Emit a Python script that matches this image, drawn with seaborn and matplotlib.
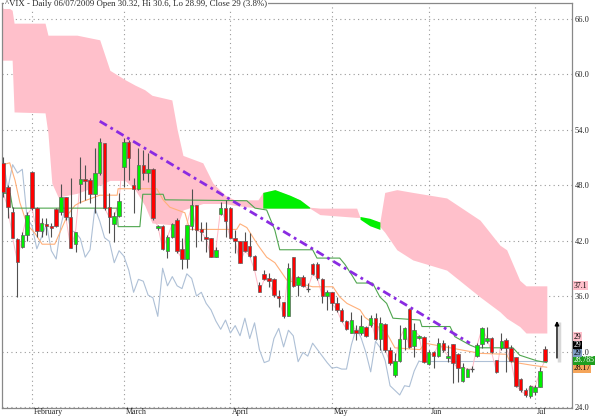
import matplotlib
matplotlib.use("Agg")
import matplotlib.pyplot as plt
import matplotlib.transforms as mtransforms
import seaborn as sns

# VIX daily candles, index 0 = 23 Jan 2009 ... index 112 = 6 Jul 2009
opens = [50.4, 47.8, 45.1, 42.2, 41.3, 42.6, 49.4, 45.5, 43.0, 43.8,
         43.6, 45.4, 45.1, 46.7, 44.5, 41.6, 48.1, 48.6, 48.5, 47.0,
         49.3, 52.5, 45.6, 43.8, 44.6, 49.9, 52.6, 48.0, 47.6, 50.2,
         49.3, 49.7, 43.4, 43.6, 40.9, 42.4, 44.2, 41.1, 40.0, 43.6,
         45.8, 43.2, 42.4, 42.3, 40.2, 44.9, 45.5, 45.5, 42.3, 41.9,
         41.9, 41.4, 40.3, 37.2, 38.4, 37.9, 37.8, 36.0, 35.4, 33.8,
         40.2, 37.2, 38.1, 36.9, 39.5, 39.5, 37.8, 36.0, 36.4, 35.2,
         34.5, 33.3, 32.0, 32.3, 32.0, 32.7, 32.9, 33.6, 31.4, 33.0,
         30.2, 27.5, 29.0, 31.4, 34.6, 30.6, 31.5, 31.6, 28.6, 29.9,
         29.5, 30.9, 29.3, 30.8, 29.7, 26.8, 27.2, 28.1, 29.5, 30.8,
         31.1, 31.5, 29.1, 30.4, 31.2, 30.4, 29.4, 27.0, 25.8, 25.2,
         25.6, 26.2, 30.32]
highs = [51.0, 48.0, 45.6, 42.3, 42.9, 45.1, 49.5, 45.6, 44.4, 44.4,
         43.9, 45.5, 48.1, 46.7, 48.8, 42.9, 51.0, 50.2, 48.8, 52.0,
         53.1, 52.5, 47.1, 45.1, 47.1, 53.1, 52.9, 48.8, 52.0, 51.8,
         51.5, 49.8, 43.7, 43.7, 42.6, 43.9, 44.4, 42.3, 43.7, 47.6,
         45.8, 44.0, 44.0, 42.3, 41.3, 46.2, 46.4, 45.6, 43.1, 42.0,
         42.9, 42.8, 40.4, 37.5, 38.8, 38.5, 37.9, 36.6, 35.4, 39.6,
         40.2, 38.2, 38.3, 37.4, 39.6, 39.7, 37.9, 36.6, 36.4, 35.9,
         34.7, 33.4, 34.3, 32.9, 33.9, 32.8, 33.9, 34.2, 33.7, 33.1,
         30.5, 29.8, 32.9, 32.7, 34.7, 33.1, 31.8, 31.7, 30.2, 30.1,
         31.5, 31.2, 30.7, 30.8, 29.8, 28.8, 28.2, 28.4, 30.9, 32.7,
         32.7, 31.6, 29.1, 32.0, 31.5, 30.7, 29.4, 27.1, 26.1, 26.4,
         26.4, 28.3, 30.6]
lows = [46.7, 44.4, 42.3, 35.9, 41.2, 42.0, 45.3, 42.4, 42.4, 42.6,
        42.4, 43.5, 44.8, 44.2, 41.2, 40.8, 46.1, 46.4, 46.1, 45.0,
        49.1, 45.3, 42.8, 41.8, 44.5, 47.8, 48.5, 45.0, 47.5, 48.5,
        48.3, 44.2, 43.1, 41.0, 40.1, 42.3, 40.6, 38.9, 39.0, 43.1,
        41.3, 42.0, 40.8, 40.2, 40.2, 44.8, 42.4, 42.3, 40.6, 39.6,
        40.8, 40.2, 38.8, 36.4, 37.7, 37.0, 35.9, 34.8, 33.6, 33.8,
        37.0, 36.0, 37.0, 36.4, 38.3, 37.7, 35.2, 34.5, 34.5, 34.3,
        33.2, 32.3, 32.0, 31.2, 31.8, 31.6, 32.6, 31.2, 30.2, 29.9,
        28.5, 27.2, 28.9, 30.2, 30.4, 29.4, 31.3, 28.8, 28.5, 28.2,
        29.4, 29.9, 28.9, 26.6, 26.7, 26.7, 27.2, 27.8, 29.4, 30.4,
        30.9, 29.8, 27.7, 30.2, 27.8, 28.9, 26.2, 25.6, 25.1, 25.0,
        25.3, 26.2, 28.99]
closes = [47.2, 45.6, 42.3, 39.7, 42.6, 44.8, 45.5, 43.0, 43.9, 43.6,
          43.4, 43.6, 46.7, 44.5, 41.2, 42.9, 48.6, 48.4, 47.0, 49.3,
          52.6, 45.5, 44.5, 44.6, 46.3, 52.6, 50.9, 47.6, 50.2, 49.3,
          49.7, 44.4, 43.6, 41.1, 42.4, 43.8, 40.9, 40.0, 43.7, 45.8,
          43.1, 42.9, 42.2, 40.2, 41.0, 45.5, 44.1, 42.3, 41.9, 39.6,
          40.9, 40.3, 38.8, 36.4, 37.8, 37.6, 36.1, 35.8, 33.8, 39.0,
          37.1, 38.1, 37.1, 36.8, 38.4, 37.9, 36.0, 36.4, 35.2, 34.5,
          33.3, 32.4, 33.4, 32.0, 32.8, 31.7, 33.6, 31.4, 33.1, 30.2,
          28.8, 29.0, 31.4, 32.5, 30.5, 32.3, 31.7, 28.9, 29.9, 29.5,
          30.9, 30.2, 29.5, 28.8, 28.2, 28.3, 28.1, 28.1, 30.7, 32.5,
          31.5, 29.9, 27.8, 31.1, 30.4, 29.0, 26.3, 25.8, 25.3, 26.3,
          26.2, 27.9, 29.0]

month_pos = [6, 25, 47, 68, 88, 110]
month_names = ["February", "March", "April", "May", "Jun", "Jul"]

# Ichimoku cloud edges
cloud_i = [-0.6, 0.4, 1.9, 2.3, 8.7, 9.3, 10.1, 11.4, 15.3, 20.0,
           22.1, 25.2, 27.3, 29.3, 30.8, 34.9, 36.0, 37.2, 41.3, 43.4,
           45.9, 47.9, 52.7, 53.7, 56.2, 61.4, 63.4, 65.5, 73.1, 73.8,
           77.9, 78.9, 81.4, 84.7, 91.7, 98.6, 102.7, 104.1, 106.8, 108.1,
           112.4]
cloud_top = [66.7, 67.4, 66.9, 65.5, 65.5, 64.2, 64.2, 64.2, 64.2, 63.7,
             60.4, 59.4, 58.8, 58.3, 57.7, 57.2, 54.0, 51.2, 50.4, 48.2,
             46.9, 46.4, 46.4, 47.2, 47.5, 46.4, 45.6, 45.5, 45.5, 44.5,
             44.0, 47.2, 47.5, 47.2, 46.6, 44.2, 41.5, 41.0, 37.7, 37.1,
             37.1]
cloud_bot = [61.5, 61.5, 61.5, 55.9, 55.8, 53.6, 48.2, 46.7, 47.1, 48.0,
             48.5, 48.5, 47.5, 45.8, 43.9, 43.7, 43.5, 45.3, 46.0, 46.0,
             46.0, 45.8, 45.5, 45.5, 45.5, 45.5, 45.5, 44.8, 44.5, 44.5,
             43.5, 42.9, 41.0, 39.9, 38.8, 35.9, 34.3, 33.6, 32.7, 32.0,
             32.0]
green1_i = [53.7, 56.2, 59.3, 61.4, 63.4]
green1_top = [47.2, 47.5, 46.9, 46.4, 45.6]
green1_bot = [45.5, 45.5, 45.5, 45.5, 45.5]
green2_i = [73.8, 75.8, 77.9]
green2_top = [44.6, 44.4, 44.0]
green2_bot = [44.3, 43.6, 43.2]

# tenkan (orange) and kijun (green) lines
ten_i = [0, 1.4, 2.5, 3.5, 5.0, 6.6, 8.1, 10.7, 11.8, 13.4,
         14.9, 15.9, 19.0, 20.0, 23.6, 23.8, 31.8, 33.1, 34.5, 37.6,
         38.6, 48.3, 49.0, 50.4, 52.7, 54.5, 56.2, 58.7, 64.0, 68.2,
         69.6, 71.1, 73.8, 74.8, 79.3, 81.0, 86.2, 87.2, 89.3, 98.6,
         104.1, 104.8, 109.5, 112.4]
ten_p = [50.2, 50.4, 48.5, 46.1, 43.7, 42.8, 41.6, 41.6, 42.9, 44.8,
         45.8, 46.1, 46.7, 46.9, 46.9, 47.6, 47.6, 46.4, 45.6, 45.0,
         43.2, 43.2, 43.8, 43.4, 41.5, 40.2, 39.6, 37.7, 37.0, 37.0,
         35.9, 35.2, 34.5, 33.7, 32.0, 30.4, 30.2, 30.9, 30.7, 29.8,
         29.7, 28.9, 28.5, 28.3]
kij_i = [0, 1.5, 2, 23.6, 23.8, 28.3, 28.9, 33.1, 33.5, 50.4,
         52.1, 54.5, 56.2, 57.2, 64.0, 64.9, 69.6, 70.7, 72.3, 73.1,
         76.4, 77.9, 79.3, 80.6, 86.2, 86.6, 92.4, 93.4, 96.5, 97.9,
         105.4, 106.8, 110.3, 112.4]
kij_p = [47.1, 47.1, 45.5, 45.5, 43.5, 43.5, 47.0, 47.0, 46.4, 46.3,
         45.5, 45.3, 43.1, 41.0, 41.0, 40.1, 40.1, 39.4, 38.1, 37.4,
         37.4, 35.9, 35.2, 33.6, 33.4, 32.7, 32.7, 31.6, 30.7, 30.4,
         30.4, 29.6, 29.0, 28.8]

# hand-drawn downtrend line
trend_i = [20.0, 96.5]
trend_p = [54.9, 30.9]

lag = 26
arrow_to = 33.6
cloud_last = 37.1
kijun_last = 28.785
tenkan_last = 28.17

PINK = "#FFC0CB"
LIME = "#00F000"
RED = "#FF0000"

sns.set_style("white")
plt.rcParams["font.family"] = ["Liberation Serif", "DejaVu Serif"]

fig = plt.figure(figsize=(6, 4.16), dpi=100)
ax = fig.add_axes([0.0033, 0.0192, 0.9500, 0.9736])

# cloud
ax.fill_between(cloud_i, cloud_bot, cloud_top, color=PINK, lw=0, zorder=1)
ax.fill_between(green1_i, green1_bot, green1_top, color=LIME, lw=0, zorder=1.1)
ax.fill_between(green2_i, green2_bot, green2_top, color=LIME, lw=0, zorder=1.1)

# lines
idx = list(range(len(closes)))
chik_i = idx[:len(closes) - lag]
chik_p = closes[lag:]
sns.lineplot(x=chik_i, y=chik_p, ax=ax, color="#AEC0D6", lw=0.8,
             estimator=None, sort=False, legend=False, zorder=2)
ax.plot([chik_i[-1], idx[-1] + 0.4], [closes[-1], closes[-1]],
        color="#AEC0D6", lw=0.8, zorder=2)
sns.lineplot(x=idx, y=closes, ax=ax, color="#FFB8C6", lw=0.7,
             estimator=None, sort=False, legend=False, zorder=2)
sns.lineplot(x=ten_i, y=ten_p, ax=ax, color="#FFB07A", lw=0.8,
             estimator=None, sort=False, legend=False, zorder=2.1)
sns.lineplot(x=kij_i, y=kij_p, ax=ax, color="#4FA64F", lw=0.8,
             estimator=None, sort=False, legend=False, zorder=2.1)

# candles
ax.vlines(idx, lows, highs, color="#505050", lw=0.8, zorder=3)
for i in idx:
    o, c = opens[i], closes[i]
    if abs(c - o) < 0.12:
        ax.hlines(c, i - 0.4, i + 0.4, color="#505050", lw=0.9, zorder=4)
        continue
    ax.bar(i, abs(c - o), bottom=min(o, c), width=0.72,
           color=LIME if c > o else RED, edgecolor="#606060", lw=0.5, zorder=4)

# trend line
ax.plot(trend_i, trend_p, color="#8A2BE2", lw=2, ls=(0, (3, 1.5, 1, 1.5)), zorder=5)

# projection arrow
ax.plot([idx[-1] + 2.9, idx[-1] + 2.9], [closes[-1] - 0.1, arrow_to - 0.4],
        color="#D8D8D8", lw=2.5, zorder=3, solid_capstyle="butt")
ax.annotate("", xy=(idx[-1] + 2.5, arrow_to), xytext=(idx[-1] + 2.5, closes[-1]),
            arrowprops=dict(arrowstyle="-|>", color="black", lw=1, mutation_scale=6),
            zorder=6, annotation_clip=False)

ax.set_xlim(-0.2, 117.6)
ax.set_ylim(23.89, 67.68)

yt = [24, 30, 36, 42, 48, 54, 60, 66]
ax.set_yticks(yt)
ax.set_yticklabels([f"{v:.1f}" for v in yt])
ax.yaxis.tick_right()
ax.tick_params(axis="y", length=0, pad=2, labelsize=6)
ax.set_xticks(month_pos)
ax.set_xticklabels([])
ax.tick_params(axis="x", length=3, color="#777777", direction="out")
xtrans = mtransforms.blended_transform_factory(ax.transData, ax.transAxes)
for pos, name in zip(month_pos, month_names):
    ax.text(pos + 0.35, -0.001, name, transform=xtrans, fontsize=5.8,
            va="top", ha="left", clip_on=False)
ax.grid(True, ls=(0, (1, 3)), color="#999999", lw=0.8)
ax.set_axisbelow(True)
for s in ax.spines.values():
    s.set_color("#888888")
    s.set_linewidth(0.9)

# value tags on the right edge, stacked upward when they collide
tags = [(tenkan_last, f"{tenkan_last}", "#F5A55A", "black"),
        (kijun_last, f"{kijun_last}", "#1E9E1E", "white"),
        (closes[-1], f"{closes[-1]:g}", "#7E9CC2", "black"),
        (closes[-1], f"{closes[-1]:g}", "black", "white"),
        (closes[-1], f"{closes[-1]:g}", PINK, "black"),
        (cloud_last, f"{cloud_last}", PINK, "black")]
trans = mtransforms.blended_transform_factory(ax.transAxes, ax.transData)
prev = -1e9
for val, txt, bg, fg in tags:
    pos = max(val, prev + 0.86)
    prev = pos
    ax.text(1.003, pos, txt, transform=trans, fontsize=5.5, color=fg,
            va="center", ha="left", clip_on=False, zorder=10,
            bbox=dict(boxstyle="square,pad=0.06", fc=bg, ec="none"))

fig.text(5 / 600, 1 - 4 / 416,
         "^VIX - Daily 06/07/2009 Open 30.32, Hi 30.6, Lo 28.99, Close 29 (3.8%)",
         fontsize=6.3, va="center", ha="left",
         bbox=dict(boxstyle="square,pad=0.1", fc="white", ec="none"))

fig.savefig("out.png", dpi=100)
